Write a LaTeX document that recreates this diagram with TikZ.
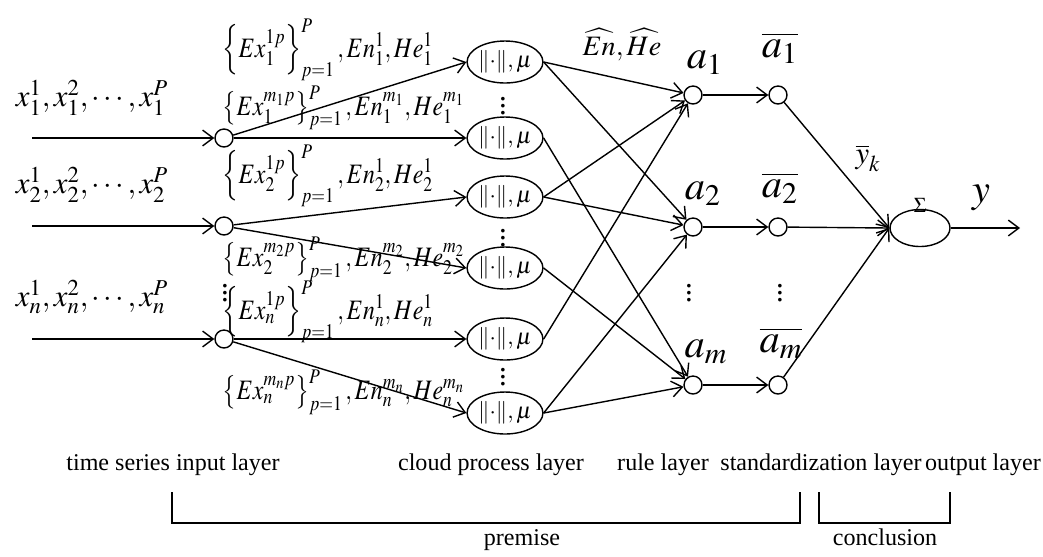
\documentclass[tikz,border=0pt]{standalone}
\usepackage{mathptmx}
\usepackage{graphicx}
\usepackage{fontspec}
\setmainfont{Liberation Serif}
\usetikzlibrary{calc,shapes.geometric,arrows.meta}

\newcommand{\parcloud}[1]{\scalebox{0.85}[1]{$#1$}}

\begin{document}
\begin{tikzpicture}[x=0.02cm,y=-0.02cm,line width=0.8pt,
	>={Straight Barb[length=6pt,width=9pt]},
	neuron/.style={circle,draw,minimum size=0.36cm,inner sep=0pt},
	nuvem/.style={ellipse,draw,minimum width=1.5cm,minimum height=0.84cm,inner sep=0pt,font=\fontsize{13}{15}\selectfont},
	lbl/.style={font=\fontsize{17.5}{20}\selectfont,inner sep=0pt},
	par/.style={font=\fontsize{16}{18}\selectfont,inner sep=0pt,anchor=west},
	big/.style={font=\fontsize{23}{26}\selectfont,inner sep=0pt},
	txt/.style={font=\fontsize{13.7}{16}\selectfont,inner sep=0pt,anchor=base}]
	\useasboundingbox (0,0) rectangle (1043,556);
	
	%entradas
	\coordinate (x1) at (32,138);
	\coordinate (x2) at (32,226);
	\coordinate (xn) at (32,339);
	\node[neuron] (i1) at (224,138) {};
	\node[neuron] (i2) at (224,226) {};
	\node[neuron] (in) at (224,339) {};
	\node[lbl] (vi) at (225,288) {$\vdots$};
	
	%camada de nuvem
	\node[nuvem] (c1) at (505,62) {$\|{\cdot}\|,\mu$};
	\node[nuvem] (c2) at (505,138) {$\|{\cdot}\|,\mu$};
	\node[nuvem] (c3) at (505,197) {$\|{\cdot}\|,\mu$};
	\node[nuvem] (c4) at (505,268) {$\|{\cdot}\|,\mu$};
	\node[nuvem] (c5) at (505,339) {$\|{\cdot}\|,\mu$};
	\node[nuvem] (c6) at (505,413) {$\|{\cdot}\|,\mu$};
	\node[lbl] (v12) at (503,101) {$\vdots$};
	\node[lbl] (v34) at (503,233) {$\vdots$};
	\node[lbl] (v56) at (503,372) {$\vdots$};
	
	%regras e normalizacao
	\node[neuron] (r1) at (693,95) {};
	\node[neuron] (r2) at (693,227) {};
	\node[neuron] (rm) at (693,385) {};
	\node[neuron] (s1) at (778,95) {};
	\node[neuron] (s2) at (778,227) {};
	\node[neuron] (sm) at (778,385) {};
	\node[lbl] (vr) at (689,288) {$\vdots$};
	\node[lbl] (vs) at (780,288) {$\vdots$};
	
	%saida
	\node[ellipse,draw,minimum width=1.2cm,minimum height=0.74cm] (soma) at (920,228) {};
	\coordinate (y) at (1020,228);
	
	%setas
	\draw[->] (x1) -- (i1);
	\draw[->] (x2) -- (i2);
	\draw[->] (xn) -- (in);
	\draw[->] (i1) -- (c1.west);
	\draw[->] (i1) -- (c2.west);
	\draw[->] (i2) -- (c3.west);
	\draw[->] (i2) -- (c4.west);
	\draw[->] (in) -- (c5.west);
	\draw[->] (in) -- (c6.west);
	\draw[->] (c1.east) -- (r1);
	\draw[->] (c1.east) -- (r2);
	\draw[->] (c2.east) -- (rm);
	\draw[->] (c3.east) -- (r1);
	\draw[->] (c3.east) -- (r2);
	\draw[->] (c4.east) -- (rm);
	\draw[->] (c5.east) -- (r1);
	\draw[->] (c6.east) -- (r2);
	\draw[->] (c6.east) -- (rm);
	\draw[->] (r1) -- (s1);
	\draw[->] (r2) -- (s2);
	\draw[->] (rm) -- (sm);
	\draw[->] (s1) -- (soma.west);
	\draw[->] (s2) -- (soma.west);
	\draw[->] (sm) -- (soma.west);
	\draw[->] (soma) -- (y);
	
	%rotulos
	\node[lbl] (lx1) at (92,98) {$x_1^1,x_1^2,\cdots,x_1^P$};
	\node[lbl] (lx2) at (92,185) {$x_2^1,x_2^2,\cdots,x_2^P$};
	\node[lbl] (lxn) at (92,297) {$x_n^1,x_n^2,\cdots,x_n^P$};
	\node[par] (p1) at (222,50) {\parcloud{\left\{Ex_1^{1p}\right\}_{p=1}^{P},En_1^1,He_1^1}};
	\node[par] (p2) at (222,108) {\parcloud{\left\{Ex_1^{m_1p}\right\}_{p=1}^{P},En_1^{m_1},He_1^{m_1}}};
	\node[par] (p3) at (222,176) {\parcloud{\left\{Ex_2^{1p}\right\}_{p=1}^{P},En_2^1,He_2^1}};
	\node[par] (p4) at (222,259) {\parcloud{\left\{Ex_2^{m_2p}\right\}_{p=1}^{P},En_2^{m_2},He_2^{m_2}}};
	\node[par] (p5) at (222,312) {\parcloud{\left\{Ex_n^{1p}\right\}_{p=1}^{P},En_n^1,He_n^1}};
	\node[par] (p6) at (222,392) {\parcloud{\left\{Ex_n^{m_np}\right\}_{p=1}^{P},En_n^{m_n},He_n^{m_n}}};
	\node[font=\fontsize{16}{18}\selectfont,inner sep=0pt] (hat) at (622,45) {$\widehat{En},\widehat{He}$};
	\node[big] (a1) at (705,63) {$a_1$};
	\node[big] (a2) at (703,194) {$a_2$};
	\node[big] (am) at (706,352) {$a_m$};
	\node[big] (b1) at (780,48) {$\overline{a_1}$};
	\node[big] (b2) at (780,188) {$\overline{a_2}$};
	\node[big] (bm) at (781,343) {$\overline{a_m}$};
	\node[lbl] (yk) at (868,158) {$\overline{y}_k$};
	\node[font=\fontsize{12}{14}\selectfont,inner sep=0pt] (sig) at (920,205) {$\Sigma$};
	\node[big] (ly) at (981,198) {$y$};
	
	%camadas
	\node[txt] (t1) at (173,470) {time series input layer};
	\node[txt] (t2) at (491,470) {cloud process layer};
	\node[txt] (t3) at (663,470) {rule layer};
	\node[txt] (t4) at (821,470) {standardization layer};
	\node[txt] (t5) at (983,470) {output layer};
	\draw (172,492) |- (800,523) -- (800,492);
	\draw (819,492) |- (950,523) -- (950,492);
	\node[txt] (pre) at (522,545) {premise};
	\node[txt] (con) at (885,545) {conclusion};
\end{tikzpicture}
\end{document}
